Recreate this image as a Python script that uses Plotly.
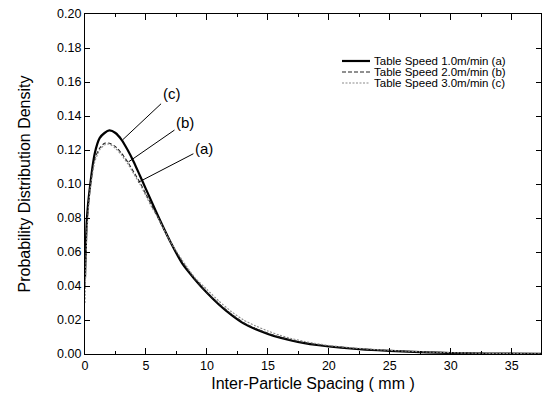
import plotly.graph_objects as go

# Inter-particle spacing (mm)
spacing = [0, 0.15, 0.4, 0.8, 1.2, 1.6, 2.0, 2.5, 3.0, 3.5, 4.0, 4.5, 5.0, 5.5, 6.0,
           7.0, 8.0, 9.0, 10, 11, 12, 13, 14, 15, 16, 17, 18, 19, 20, 22, 24, 26,
           28, 30, 33, 37.4]

# Table Speed 1.0 m/min (a)
speed_a = [0.045, 0.079, 0.098, 0.118, 0.127, 0.130, 0.1315, 0.130, 0.126, 0.120,
           0.113, 0.105, 0.097, 0.089, 0.081, 0.066, 0.053, 0.044, 0.036, 0.029,
           0.023, 0.018, 0.0145, 0.0118, 0.0096, 0.0078, 0.0064, 0.0053, 0.0044,
           0.0031, 0.0022, 0.0015, 0.0010, 0.0006, 0.0003, 0.0001]

# Table Speed 2.0 m/min (b)
speed_b = [0.040, 0.075, 0.097, 0.115, 0.121, 0.124, 0.124, 0.122, 0.118, 0.113,
           0.107, 0.101, 0.094, 0.087, 0.080, 0.066, 0.054, 0.044, 0.036, 0.0295,
           0.0235, 0.0185, 0.015, 0.0122, 0.0099, 0.0081, 0.0066, 0.0055, 0.0046,
           0.0033, 0.0023, 0.0016, 0.0011, 0.0007, 0.0003, 0.0001]

# Table Speed 3.0 m/min (c)
speed_c = [0.030, 0.070, 0.095, 0.113, 0.120, 0.123, 0.1235, 0.121, 0.117, 0.112,
           0.106, 0.100, 0.093, 0.086, 0.080, 0.066, 0.055, 0.045, 0.038, 0.031,
           0.025, 0.020, 0.0165, 0.0135, 0.011, 0.009, 0.0074, 0.0061, 0.005,
           0.0036, 0.0026, 0.0018, 0.0012, 0.0008, 0.0004, 0.0001]

series_names = ["Table Speed 1.0m/min (a)", "Table Speed 2.0m/min (b)",
                "Table Speed 3.0m/min (c)"]

x_ticks = [0, 5, 10, 15, 20, 25, 30, 35]
y_ticks = [0.00, 0.02, 0.04, 0.06, 0.08, 0.10, 0.12, 0.14, 0.16, 0.18, 0.20]

# curve labels: (text, point on curve x, y, text centre x, y)
labels = [("(c)", 3.09, 0.126, 7.1, 0.153),
          ("(b)", 3.57, 0.113, 8.2, 0.136),
          ("(a)", 4.37, 0.101, 9.75, 0.121)]

FONT = "Arial, Liberation Sans, sans-serif"

styles = [dict(color="black", width=2.2),
          dict(color="#222222", width=1.1, dash="4px,2px"),
          dict(color="#8a8a8a", width=1.1, dash="2px,1.5px")]

fig = go.Figure()
for ys, name, st in zip([speed_a, speed_b, speed_c], series_names, styles):
    fig.add_trace(go.Scatter(x=spacing, y=ys, mode="lines", name=name,
                             line=dict(shape="spline", smoothing=0.6, **st),
                             showlegend=False))

# curve labels with leader lines
for txt, px, py, tx, ty in labels:
    fig.add_annotation(x=px, y=py, ax=tx, ay=ty, xref="x", yref="y",
                       axref="x", ayref="y", text=txt, showarrow=True,
                       arrowhead=0, arrowwidth=1, arrowcolor="black",
                       font=dict(family=FONT, size=15, color="black"))

# custom compact legend (plot area is 456 x 340 px)
leg_y = [0.8618, 0.8294, 0.7971]
for name, st, yy in zip(series_names, styles, leg_y):
    fig.add_shape(type="line", xref="paper", yref="paper",
                  x0=0.5636, x1=0.625, y0=yy, y1=yy, line=st)
    fig.add_annotation(xref="paper", yref="paper", x=0.6316, y=yy,
                       xanchor="left", yanchor="middle", text=name,
                       showarrow=False, borderpad=0,
                       font=dict(family=FONT, size=11.5, color="black"))

axis_common = dict(showgrid=False, zeroline=False, showline=True,
                   linecolor="black", linewidth=1.3, mirror="ticks",
                   ticks="inside", tickcolor="black", tickwidth=1.2,
                   tickfont=dict(family=FONT, size=12.5, color="black"))

fig.update_xaxes(range=[0, 37.4], tickvals=x_ticks, ticklen=6,
                 minor=dict(dtick=2.5, tick0=0, ticks="inside", ticklen=3,
                            tickcolor="black", tickwidth=1),
                 title=dict(text="Inter-Particle Spacing ( mm )",
                            font=dict(family=FONT, size=16, color="black"),
                            standoff=5),
                 **axis_common)
fig.update_yaxes(range=[0, 0.20], tickvals=y_ticks, tickformat=".2f", ticklen=5,
                 title=dict(text="Probability Distribution Density",
                            font=dict(family=FONT, size=16, color="black"),
                            standoff=22),
                 **axis_common)

fig.update_layout(width=542, height=407, plot_bgcolor="white",
                  paper_bgcolor="white",
                  margin=dict(l=85, r=1, t=14, b=53, autoexpand=False))

# remove the page's default 8px body margin so the figure fills the window
fig.write_html("out.html", config={"displayModeBar": False},
               post_script="document.body.style.margin='0';document.body.style.overflow='hidden';")
